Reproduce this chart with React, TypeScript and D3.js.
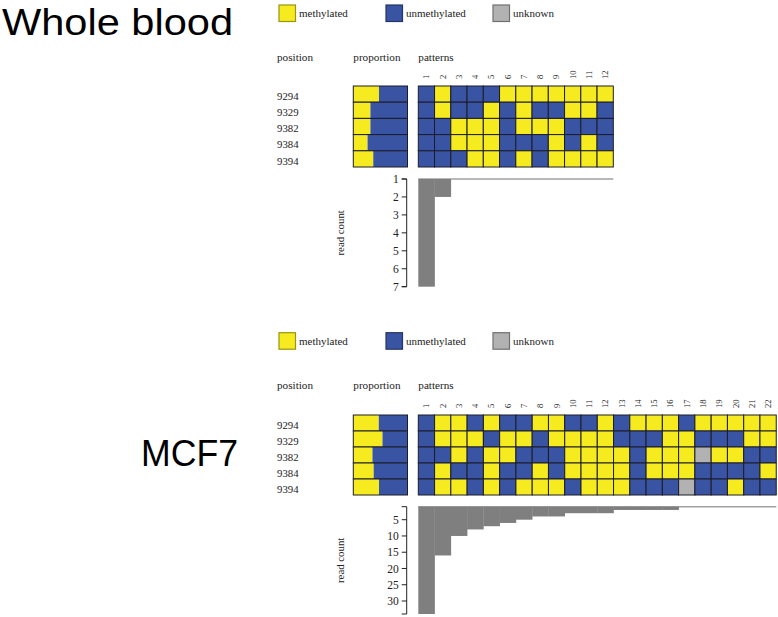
import React from 'react';
import * as d3 from 'd3';

const positions = ['9294', '9329', '9382', '9384', '9394'];

// one string per CpG position, one letter per pattern: M methylated, U unmethylated, ? unknown
const bloodRows = [
  'UMUUUMMMMMMM',
  'UMUUMUMUUMMU',
  'UUMMMUMMMUUU',
  'UUMMMUUUMUMU',
  'UUUMMUMUMMMM',
];
const bloodCounts = [7, 2, 1, 1, 1, 1, 1, 1, 1, 1, 1, 1];
const bloodTicks = [1, 2, 3, 4, 5, 6, 7];

const mcf7Rows = [
  'UMMUMUUMMUUMUMMMUMMMMM',
  'UMMMUMMUMMMMUUUMMUUUMM',
  'UUMUMMUUUMMMMUMMM?MMUU',
  'UMUUMUUMUMMMMUMMMUUUUM',
  'UMMUMUMMMUMMMUUU?UUMUU',
];
const mcf7Counts = [34, 16, 10, 8, 7, 6, 5, 4, 4, 3, 3, 3, 2, 2, 2, 2, 1, 1, 1, 1, 1, 1];
const mcf7Ticks = [5, 10, 15, 20, 25, 30];

const legendItems = [
  { key: 'M', label: 'methylated' },
  { key: 'U', label: 'unmethylated' },
  { key: '?', label: 'unknown' },
];

const colors: Record<string, string> = {
  M: '#f5eb1f',
  U: '#3a54a4',
  '?': '#b2b2b2',
};

const serif = '"Liberation Serif", "DejaVu Serif", serif';
const sans = '"Liberation Sans", "Open Sans", sans-serif';

interface Geo {
  legendY: number;
  headerY: number;
  heatTop: number;
  rowH: number;
  colW: number;
  barTop: number;
  barBottom: number;
}

interface PanelProps {
  title: string;
  titleX: number;
  titleY: number;
  titleLen: number;
  rows: string[];
  counts: number[];
  ticks: number[];
  geo: Geo;
}

const Panel: React.FC<PanelProps> = ({ title, titleX, titleY, titleLen, rows, counts, ticks, geo }) => {
  const nPat = counts.length;
  const patX = 418.3;
  const propX0 = 353.3;
  const propX1 = 407.5;
  const axisX = 406.7;

  const x = d3.scaleLinear().domain([0, nPat]).range([patX, patX + nPat * geo.colW]);
  const yRow = d3.scaleLinear().domain([0, rows.length]).range([geo.heatTop, geo.heatTop + rows.length * geo.rowH]);
  const yBar = d3.scaleLinear().domain([1, d3.max(counts) as number]).range([geo.barTop, geo.barBottom]);
  const prop = d3.scaleLinear().domain([0, 1]).range([propX0, propX1]);

  // methylated share per position, weighted by read count
  const shares = rows.map(r => {
    let m = 0, tot = 0;
    r.split('').forEach((c, i) => {
      if (c === '?') return;
      tot += counts[i];
      if (c === 'M') m += counts[i];
    });
    return m / tot;
  });

  const [y0, y1] = yBar.range();
  const legendX = [279, 386, 493];

  return (
    <g>
      <text x={titleX} y={titleY} fontFamily={sans} fontSize={37.5} textLength={titleLen} lengthAdjust="spacingAndGlyphs" fill="#000">
        {title}
      </text>

      {/* legend */}
      {legendItems.map((d, i) => (
        <g key={d.key}>
          <rect x={legendX[i]} y={geo.legendY} width={16.5} height={16.5} fill={colors[d.key]}
            stroke={d3.color(colors[d.key])!.darker(1.3).toString()} strokeWidth={1.2} />
          <text x={legendX[i] + 20} y={geo.legendY + 8.5} dy="0.35em" fontFamily={serif} fontSize={11} fill="#222">
            {d.label}
          </text>
        </g>
      ))}

      {/* headers */}
      <g fontFamily={serif} fontSize={11.2} fill="#222">
        <text x={277} y={geo.headerY} dy="0.35em">position</text>
        <text x={propX0} y={geo.headerY} dy="0.35em">proportion</text>
        <text x={patX} y={geo.headerY} dy="0.35em">patterns</text>
      </g>

      {/* position labels */}
      {positions.map((p, i) => (
        <text key={p} x={277} y={yRow(i + 0.5) + 2} dy="0.35em" fontFamily={serif} fontSize={10.8} fill="#222">{p}</text>
      ))}

      {/* proportion bars */}
      {shares.map((s, i) => (
        <g key={i}>
          <rect x={propX0} y={yRow(i)} width={prop(s) - propX0} height={geo.rowH} fill={colors.M} />
          <rect x={prop(s)} y={yRow(i)} width={propX1 - prop(s)} height={geo.rowH} fill={colors.U} />
          <rect x={propX0} y={yRow(i)} width={propX1 - propX0} height={geo.rowH} fill="none" stroke="#1c1c2a" strokeWidth={1} />
        </g>
      ))}

      {/* pattern numbers */}
      {counts.map((_, j) => (
        <text key={j} transform={`translate(${x(j + 0.5)},${geo.heatTop - 7}) rotate(-90)`} dy="0.35em"
          fontFamily={serif} fontSize={8.5} fill="#222">{j + 1}</text>
      ))}

      {/* pattern cells */}
      {rows.map((r, i) =>
        r.split('').map((c, j) => (
          <rect key={`${i}-${j}`} x={x(j)} y={yRow(i)} width={geo.colW} height={geo.rowH}
            fill={colors[c]} stroke="#1c1c2a" strokeWidth={1} />
        ))
      )}

      {/* read count bars */}
      <line x1={x(0)} x2={x(nPat)} y1={y0} y2={y0} stroke="#a0a0a0" strokeWidth={1.6} />
      {counts.map((c, j) => (
        <rect key={j} x={x(j)} y={y0} width={geo.colW + 0.3} height={yBar(c) - y0} fill="#7f7f7f" />
      ))}

      {/* read count axis */}
      <path d={`M${axisX - 5},${y0}H${axisX}V${y1}H${axisX - 5}`} fill="none" stroke="#222" strokeWidth={1} />
      {ticks.map(t => (
        <g key={t} transform={`translate(0,${yBar(t)})`}>
          <line x1={axisX - 5} x2={axisX} stroke="#222" strokeWidth={1} />
          <text x={axisX - 8} dy="0.35em" textAnchor="end" fontFamily={serif} fontSize={11.5} fill="#222">{t}</text>
        </g>
      ))}
      <text transform={`translate(340,${(y0 + y1) / 2}) rotate(-90)`} dy="0.35em" textAnchor="middle"
        fontFamily={serif} fontSize={10.8} fill="#222">read count</text>
    </g>
  );
};

const App: React.FC = () => {
  return (
    <div style={{ position: 'absolute', left: 0, top: 0, width: 778, height: 617, background: '#fff' }}>
      <svg width={778} height={617} viewBox="0 0 778 617">
        <rect width={778} height={617} fill="#fff" />
        <Panel title="Whole blood" titleX={2} titleY={34.5} titleLen={231} rows={bloodRows} counts={bloodCounts}
          ticks={bloodTicks}
          geo={{ legendY: 5, headerY: 57, heatTop: 86, rowH: 16.2, colW: 16.25, barTop: 179, barBottom: 286.7 }} />
        <Panel title="MCF7" titleX={141} titleY={466} titleLen={97} rows={mcf7Rows} counts={mcf7Counts}
          ticks={mcf7Ticks}
          geo={{ legendY: 332.7, headerY: 385, heatTop: 415, rowH: 16, colW: 16.27, barTop: 506.7, barBottom: 614 }} />
      </svg>
    </div>
  );
};

export default App;
